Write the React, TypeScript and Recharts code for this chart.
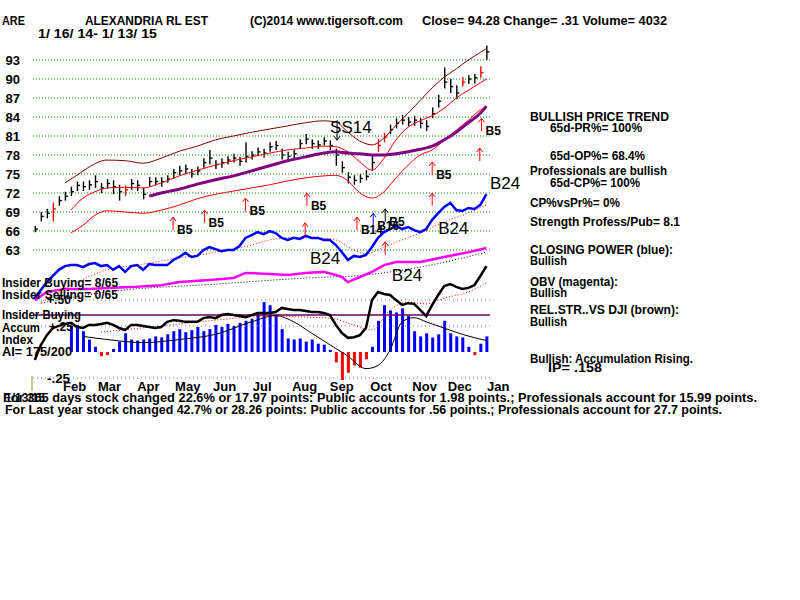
import React from 'react'
import { ComposedChart, Line, Bar, Scatter, XAxis, YAxis, ReferenceLine, Cell } from 'recharts'

const FONT = '"Liberation Sans", Arial, sans-serif'

// one price bar every ~3 sessions, 1/16/14 .. 1/13/15
const priceHigh = [
  66.8, 69.0, 69.5, 70.5, 71.5, 72.2, 73.0, 73.8, 73.8, 74.0,
  74.8, 73.6, 74.2, 74.0, 73.3, 73.2, 74.2, 74.0, 72.8, 74.5,
  74.5, 74.5, 74.8, 75.8, 76.3, 76.5, 75.8, 76.2, 77.5, 78.8,
  77.2, 77.5, 77.8, 78.2, 77.7, 80.0, 78.6, 79.2, 79.0, 80.0,
  80.2, 79.0, 78.5, 78.8, 80.5, 81.3, 80.5, 80.3, 80.8, 80.3,
  79.0, 77.0, 75.3, 74.8, 75.0, 75.6, 77.8, 80.5, 81.5, 82.8,
  83.8, 84.3, 84.0, 84.2, 83.8, 83.5, 85.5, 87.5, 91.8, 90.0,
  89.0, 90.3, 90.6, 90.8, 92.0, 95.3,
]
const priceLow = [
  65.8, 67.5, 68.0, 67.5, 70.0, 70.8, 71.5, 72.3, 72.3, 72.5,
  72.8, 72.0, 72.7, 71.8, 70.8, 71.5, 72.5, 72.3, 71.0, 73.0,
  73.2, 73.0, 73.6, 74.3, 74.8, 75.0, 74.4, 74.8, 76.0, 76.5,
  75.8, 76.0, 76.5, 76.8, 76.3, 76.8, 77.3, 77.8, 77.6, 78.5,
  78.8, 77.3, 77.2, 77.5, 79.0, 79.7, 79.0, 79.0, 79.5, 78.8,
  76.3, 75.2, 73.5, 73.3, 73.6, 74.0, 75.5, 78.5, 80.0, 81.3,
  82.2, 82.8, 82.5, 82.6, 82.2, 81.8, 83.8, 85.5, 88.5, 87.8,
  86.8, 88.8, 89.2, 89.3, 90.2, 93.0,
]
const priceClose = [
  66.3, 68.3, 68.8, 69.5, 70.8, 71.5, 72.2, 73.2, 73.0, 73.3,
  73.8, 72.8, 73.5, 73.0, 72.2, 72.5, 73.5, 73.2, 71.8, 73.8,
  73.8, 73.8, 74.2, 75.2, 75.5, 75.8, 75.0, 75.5, 76.8, 77.5,
  76.5, 76.8, 77.2, 77.5, 77.0, 77.8, 78.0, 78.5, 78.3, 79.3,
  79.5, 78.0, 77.8, 78.2, 79.8, 80.5, 79.8, 79.6, 80.2, 79.5,
  78.0, 76.0, 74.5, 74.0, 74.3, 74.6, 76.8, 79.5, 80.8, 82.0,
  83.0, 83.5, 83.2, 83.5, 83.0, 82.5, 84.5, 86.5, 89.5, 88.8,
  87.8, 89.5, 90.0, 90.2, 91.0, 94.3,
]
const redBars = [3, 15, 57, 58, 71, 74]

// bands and moving average: [bar index, price]
const upperBand: [number, number][] = [
  [5, 73.6], [7, 74.8], [9, 76.1], [12, 77.2], [15, 77.1], [18, 76.7], [21, 77.5], [24, 78.6],
  [27, 79.4], [30, 80.4], [33, 81.0], [36, 81.6], [39, 82.1], [42, 82.6], [45, 83.1], [48, 83.4],
  [50, 83.2], [52, 81.6], [54, 80.2], [56, 79.6], [58, 80.7], [60, 82.7], [62, 84.6], [64, 86.6],
  [66, 88.6], [68, 90.3], [70, 91.6], [72, 93.0], [74, 94.2], [75, 94.8],
]
const midBand: [number, number][] = [
  [6, 69.3], [8, 71.2], [10, 72.2], [12, 72.8], [15, 72.9], [18, 72.8], [21, 73.6], [24, 74.7],
  [27, 75.6], [30, 76.4], [33, 77.1], [36, 77.7], [39, 78.3], [42, 78.8], [45, 79.1], [48, 79.4],
  [50, 79.3], [52, 78.5], [54, 76.9], [56, 75.6], [58, 77.5], [60, 80.4], [62, 82.4], [64, 83.4],
  [66, 84.2], [68, 85.4], [70, 87.0], [72, 88.2], [74, 89.4], [75, 90.0],
]
const lowerBand: [number, number][] = [
  [6, 65.7], [8, 66.9], [10, 68.5], [12, 69.2], [15, 69.0], [18, 68.8], [21, 69.3], [24, 70.1],
  [27, 71.1], [30, 71.8], [33, 72.3], [36, 72.8], [39, 73.3], [42, 73.9], [45, 74.4], [48, 74.7],
  [50, 74.8], [52, 73.9], [54, 72.0], [56, 71.2], [58, 72.2], [60, 74.4], [62, 76.4], [64, 78.0],
  [66, 78.8], [68, 80.4], [70, 81.9], [72, 83.5], [74, 85.1], [75, 85.6],
]
const ma65: [number, number][] = [
  [19, 71.5], [21, 72.0], [24, 72.6], [27, 73.4], [30, 74.1], [33, 74.7], [36, 75.5], [39, 76.3],
  [42, 77.1], [45, 77.7], [48, 78.3], [50, 78.5], [52, 78.3], [54, 78.2], [56, 78.0], [58, 78.0],
  [60, 78.2], [62, 78.5], [64, 78.9], [66, 79.4], [68, 80.4], [70, 81.6], [72, 83.1], [74, 84.6],
  [75, 85.7],
]

// closing power (blue), 0..100 indicator scale
const closingPower = [
  24.1, 26.5, 28.8, 30.6, 32.4, 33.5, 33.8, 33.8, 33.2, 34.1,
  34.4, 33.5, 33.8, 32.4, 33.5, 31.8, 33.5, 33.8, 32.4, 34.1,
  33.8, 33.8, 33.8, 35.3, 36.2, 37.4, 36.2, 36.5, 38.2, 39.1,
  38.5, 37.9, 38.2, 38.2, 39.4, 41.8, 42.6, 43.5, 42.9, 43.8,
  43.2, 41.8, 41.2, 41.8, 41.5, 42.4, 41.8, 41.8, 41.2, 41.2,
  39.7, 37.6, 35.3, 36.5, 36.2, 36.8, 39.1, 41.8, 43.5, 44.4,
  45.3, 44.4, 45.0, 44.1, 43.5, 44.4, 47.1, 49.1, 50.9, 52.1,
  50.0, 49.7, 50.6, 50.3, 51.5, 54.7,
]
const closingPowerMa: [number, number][] = [
  [1, 22.9], [6, 27.9], [12, 32.4], [18, 34.1], [24, 35.9], [30, 37.6], [36, 39.7], [39, 41.2],
  [42, 41.8], [47, 41.8], [50, 41.2], [53, 38.2], [55, 37.1], [58, 39.1], [61, 41.2], [64, 43.2],
  [68, 46.5], [72, 49.1], [75, 51.5],
]
const obv: [number, number][] = [
  [0, 23.5], [2, 25.9], [5, 26.8], [9, 26.8], [13, 27.1], [17, 27.4], [21, 27.9], [24, 28.8],
  [29, 29.4], [33, 30.0], [35, 31.5], [39, 31.2], [42, 30.9], [45, 31.5], [48, 31.8], [50, 30.9],
  [51, 30.3], [52, 28.8], [54, 30.3], [56, 31.8], [58, 33.8], [60, 34.7], [64, 34.7], [68, 36.2],
  [72, 37.6], [75, 38.8],
]
const obvMa: [number, number][] = [
  [1, 22.6], [12, 25.9], [30, 28.2], [45, 30.0], [55, 30.9], [64, 33.2], [75, 37.6],
]
const relStrength = [
  5.9, 10.3, 13.2, 15.3, 15.9, 16.5, 16.8, 15.6, 15.3, 16.2,
  16.2, 16.5, 16.8, 16.2, 15.3, 14.7, 16.2, 16.2, 15.9, 15.6,
  15.3, 15.6, 17.1, 17.6, 17.4, 17.1, 17.1, 17.1, 18.2, 18.5,
  18.2, 19.1, 19.4, 19.1, 18.8, 18.5, 19.1, 19.7, 19.7, 19.7,
  20.0, 21.2, 20.9, 20.6, 20.6, 20.3, 20.0, 20.0, 19.7, 19.1,
  16.2, 13.8, 12.4, 12.6, 13.2, 15.3, 23.5, 25.9, 25.3, 25.0,
  23.5, 22.1, 22.6, 22.4, 20.6, 18.8, 22.1, 25.0, 27.6, 28.2,
  27.4, 26.8, 27.1, 27.9, 30.6, 33.5,
]
const relStrengthMa: [number, number][] = [
  [11, 14.1], [21, 15.9], [30, 17.6], [39, 18.8], [45, 18.5], [49, 18.2], [53, 16.2], [56, 14.7],
  [59, 20.6], [62, 22.9], [65, 22.4], [68, 24.1], [72, 25.9], [75, 28.5],
]

// accumulation index
const accum = [
  null, null, null, null, null, null, 0.25, 0.26, 0.2, 0.12,
  0.05, -0.04, -0.03, 0.03, 0.1, 0.18, 0.12, 0.11, 0.12, 0.13,
  0.15, 0.14, 0.17, 0.2, 0.22, 0.19, 0.21, 0.24, 0.2, 0.22,
  0.26, 0.24, 0.27, 0.25, 0.28, 0.3, 0.32, 0.36, 0.48, 0.45,
  0.36, 0.22, 0.13, 0.12, 0.13, 0.1, 0.12, 0.08, 0.07, 0.02,
  -0.1, -0.27, -0.2, -0.13, -0.15, -0.07, 0.05, 0.3, 0.45, 0.4,
  0.38, 0.42, 0.35, 0.2, 0.15, 0.18, 0.14, 0.17, 0.3, 0.18,
  0.15, 0.14, 0.05, -0.03, 0.08, 0.15,
]
const accumMa: [number, number][] = [
  [8, 0.15], [12, 0.12], [18, 0.09], [24, 0.12], [30, 0.17], [36, 0.29], [40, 0.35], [43, 0.29],
  [46, 0.18], [49, 0.07], [52, -0.04], [55, -0.16], [57, -0.13], [59, 0.02], [61, 0.29], [63, 0.33],
  [65, 0.29], [68, 0.23], [71, 0.17], [75, 0.11],
]
const insiderLevel = 0.356

const priceTicks = [63, 66, 69, 72, 75, 78, 81, 84, 87, 90, 93]
const accumTicks = [0.5, 0.25, -0.25]
const monthNames = ['Feb', 'Mar', 'Apr', 'May', 'Jun', 'Jul', 'Aug', 'Sep', 'Oct', 'Nov', 'Dec', 'Jan']
const monthStarts = [4.7, 10.5, 17.0, 23.3, 29.6, 36.2, 42.7, 49.0, 55.7, 62.7, 68.6, 75.1]

// signals: bar index, price level of the arrow tip
const signals = [
  { i: 22.96, level: 68.2, kind: 'buy', label: 'B5' },
  { i: 28.2, level: 69.3, kind: 'buy', label: 'B5' },
  { i: 35.0, level: 71.2, kind: 'buy', label: 'B5' },
  { i: 44.9, level: 67.3, kind: 'buy', label: '' },
  { i: 45.2, level: 72.0, kind: 'buy', label: 'B5' },
  { i: 50.2, level: 83.5, kind: 'sell', label: 'SS14' },
  { i: 53.5, level: 68.2, kind: 'buy', label: 'B14' },
  { i: 56.2, level: 68.8, kind: 'cp', label: 'B16' },
  { i: 58.2, level: 69.5, kind: 'pro', label: 'B5' },
  { i: 58.2, level: 64.3, kind: 'buy', label: '' },
  { i: 66.0, level: 72.0, kind: 'buy', label: '' },
  { i: 66.0, level: 76.9, kind: 'buy', label: 'B5' },
  { i: 73.9, level: 79.1, kind: 'buy', label: '' },
  { i: 74.2, level: 83.8, kind: 'buy', label: 'B5' },
]
const cpSignals = [
  { i: 75.6, level: 57.9, label: 'B24' },
  { i: 67.0, level: 44.7, label: 'B24' },
  { i: 45.7, level: 35.9, label: 'B24' },
  { i: 59.3, level: 30.9, label: 'B24' },
]

const sparse = (pairs: [number, number][]) => {
  const m = new Map<number, number>()
  pairs.forEach(([i, v]) => m.set(i, v))
  return (i: number) => (m.has(i) ? m.get(i) : null)
}
const up = sparse(upperBand), mid = sparse(midBand), lo = sparse(lowerBand), ma = sparse(ma65)
const cpMa = sparse(closingPowerMa), ob = sparse(obv), obMa = sparse(obvMa)
const rsMa = sparse(relStrengthMa), acMa = sparse(accumMa)

const rows = priceClose.map((c, i) => ({
  i,
  range: [priceLow[i], priceHigh[i]],
  close: c,
  red: redBars.includes(i),
  upper: up(i), mid: mid(i), lower: lo(i), ma: ma(i),
  cp: closingPower[i], cpMa: cpMa(i), obv: ob(i), obvMa: obMa(i),
  rs: relStrength[i], rsMa: rsMa(i), accum: accum[i], accumMa: acMa(i),
}))

const W = 800
const H = 600
const X_DOMAIN: [number, number] = [-0.3, 75.6]
const PRICE_DOMAIN: [number, number] = [42.474, 96.158]

const PriceBar = (p: any) => {
  const { x, y, width, height, payload } = p
  if (!payload || x == null) return null
  const top = Math.min(y, y + height)
  const bot = Math.max(y, y + height)
  const [l, h] = payload.range
  const cy = top + ((h - payload.close) / (h - l || 1)) * (bot - top)
  const cx = x + width / 2
  const col = payload.red ? '#ff0000' : '#000000'
  return (
    <g stroke={col} strokeWidth={1.4}>
      <line x1={cx} y1={top} x2={cx} y2={bot} />
      <line x1={cx} y1={cy} x2={cx + 2.5} y2={cy} />
    </g>
  )
}

const kindColor: Record<string, string> = { buy: '#ff0000', cp: '#0000ff', pro: '#000000', sell: '#000000' }

const SignalMark = (p: any) => {
  const { cx, cy, payload } = p
  const col = kindColor[payload.kind]
  if (payload.kind === 'sell') {
    return (
      <g>
        <g stroke={col} strokeWidth={1}>
          <line x1={cx} y1={cy} x2={cx} y2={cy + 20} />
          <line x1={cx - 3} y1={cy + 16} x2={cx} y2={cy + 20} />
          <line x1={cx + 3} y1={cy + 16} x2={cx} y2={cy + 20} />
        </g>
        <text x={cx - 7} y={cy + 13} fontFamily={FONT} fontSize={17} fill="#000">{payload.label}</text>
      </g>
    )
  }
  return (
    <g>
      <g stroke={col} strokeWidth={1}>
        <line x1={cx} y1={cy} x2={cx} y2={cy + 13} />
        <line x1={cx - 3} y1={cy + 4} x2={cx} y2={cy} />
        <line x1={cx + 3} y1={cy + 4} x2={cx} y2={cy} />
      </g>
      {payload.label ? (
        <text x={cx + 4} y={cy + 17} fontFamily={FONT} fontWeight="bold" fontSize={12} fill="#000">{payload.label}</text>
      ) : null}
    </g>
  )
}

const CpLabel = (p: any) => (
  <text x={p.cx} y={p.cy + 6} fontFamily={FONT} fontSize={17} fill="#000">{p.payload.label}</text>
)

const PriceTick = (p: any) => (
  <text x={20} y={p.y + 5} textAnchor="end" fontFamily={FONT} fontWeight="bold" fontSize={13} fill="#000">
    {p.payload.value}
  </text>
)

const MonthTick = (p: any) => {
  const k = monthStarts.indexOf(p.payload.value)
  return (
    <text x={p.x} y={391} fontFamily={FONT} fontWeight="bold" fontSize={13} fill="#000">{monthNames[k]}</text>
  )
}

const T = ({ x, y, w, size = 12, children }: any) => (
  <text x={x} y={y} fontFamily={FONT} fontWeight="bold" fontSize={size} fill="#000"
    textLength={w} lengthAdjust={w ? 'spacingAndGlyphs' : undefined}>
    {children}
  </text>
)

const layer: React.CSSProperties = { position: 'absolute', left: 0, top: 0 }

export default function App() {
  return (
    <div style={{ position: 'absolute', left: 0, top: 0, width: W, height: H, background: '#fff', overflow: 'hidden' }}>
      {/* price panel */}
      <div style={layer}>
        <ComposedChart width={W} height={H} data={rows} margin={{ top: 40, right: 310, bottom: 220, left: 0 }}>
          <XAxis dataKey="i" type="number" domain={X_DOMAIN} hide allowDataOverflow />
          <YAxis yAxisId="price" type="number" domain={PRICE_DOMAIN} ticks={priceTicks} width={33}
            axisLine={false} tickLine={false} tick={PriceTick} allowDataOverflow interval={0} />
          {priceTicks.map(t => (
            <ReferenceLine key={t} yAxisId="price" y={t} stroke="#008000" strokeDasharray="1 2" />
          ))}
          <Line yAxisId="price" dataKey="upper" type="monotone" stroke="#800000" strokeWidth={1} dot={false} connectNulls isAnimationActive={false} />
          <Line yAxisId="price" dataKey="mid" type="monotone" stroke="#ff0000" strokeWidth={1} dot={false} connectNulls isAnimationActive={false} />
          <Line yAxisId="price" dataKey="lower" type="monotone" stroke="#ff0000" strokeWidth={1} dot={false} connectNulls isAnimationActive={false} />
          <Line yAxisId="price" dataKey="ma" type="monotone" stroke="#800080" strokeWidth={3} dot={false} connectNulls isAnimationActive={false} />
          <Bar yAxisId="price" dataKey="range" barSize={3} shape={PriceBar} isAnimationActive={false} />
        </ComposedChart>
      </div>
      {/* indicators and accumulation */}
      <div style={layer}>
        <ComposedChart width={W} height={H} data={rows} margin={{ top: 40, right: 310, bottom: 200, left: 33 }}>
          <XAxis dataKey="i" type="number" domain={X_DOMAIN} ticks={monthStarts} height={20} interval={0}
            axisLine={false} tickLine={false} tick={MonthTick} allowDataOverflow />
          <YAxis yAxisId="acc" type="number" domain={[-0.2692, 3]} hide allowDataOverflow />
          <YAxis yAxisId="ind" type="number" domain={[0, 100]} hide allowDataOverflow />
          {accumTicks.map(t => (
            <ReferenceLine key={t} yAxisId="acc" y={t} stroke="#808080" strokeDasharray="1 3" />
          ))}
          <Bar yAxisId="acc" dataKey="accum" barSize={3} isAnimationActive={false}>
            {rows.map(r => (
              <Cell key={r.i} fill={(r.accum ?? 0) < 0 ? '#ff0000' : '#0000ff'} />
            ))}
          </Bar>
          <ReferenceLine yAxisId="acc" y={insiderLevel} stroke="#660066" strokeWidth={1.5} />
          <Line yAxisId="acc" dataKey="accumMa" type="monotone" stroke="#000" strokeWidth={1} dot={false} connectNulls isAnimationActive={false} />
          <Line yAxisId="ind" dataKey="obvMa" type="monotone" stroke="#000" strokeWidth={1} strokeDasharray="1 2" dot={false} connectNulls isAnimationActive={false} />
          <Line yAxisId="ind" dataKey="obv" type="linear" stroke="#ff00ff" strokeWidth={2.5} dot={false} connectNulls isAnimationActive={false} />
          <Line yAxisId="ind" dataKey="cpMa" type="monotone" stroke="#ff0000" strokeWidth={1} strokeDasharray="1 2" dot={false} connectNulls isAnimationActive={false} />
          <Line yAxisId="ind" dataKey="cp" type="linear" stroke="#0000ff" strokeWidth={2.5} dot={false} isAnimationActive={false} />
          <Line yAxisId="ind" dataKey="rsMa" type="monotone" stroke="#ff0000" strokeWidth={1} strokeDasharray="1 2" dot={false} connectNulls isAnimationActive={false} />
          <Line yAxisId="ind" dataKey="rs" type="linear" stroke="#000" strokeWidth={2.5} dot={false} isAnimationActive={false} />
        </ComposedChart>
      </div>
      {/* signal arrows and labels */}
      <div style={layer}>
        <ComposedChart width={W} height={H} data={rows} margin={{ top: 40, right: 310, bottom: 220, left: 33 }}>
          <XAxis dataKey="i" type="number" domain={X_DOMAIN} hide />
          <YAxis yAxisId="price" type="number" domain={PRICE_DOMAIN} hide />
          <YAxis yAxisId="ind" type="number" domain={[0, 100]} hide />
          <Scatter yAxisId="price" data={signals} dataKey="level" shape={SignalMark} isAnimationActive={false} />
          <Scatter yAxisId="ind" data={cpSignals} dataKey="level" shape={CpLabel} isAnimationActive={false} />
        </ComposedChart>
      </div>
      <svg width={W} height={H} style={{ ...layer, pointerEvents: 'none' }}>
        <T x={2} y={25} w={23}>ARE</T>
        <T x={85} y={25} w={123}>ALEXANDRIA RL EST</T>
        <T x={250} y={25} w={153}>(C)2014 www.tigersoft.com</T>
        <T x={422} y={25} w={245}>Close=  94.28  Change= .31 Volume= 4032</T>
        <T x={38} y={38} w={119}>1/ 16/ 14- 1/ 13/ 15</T>

        <T x={530} y={121} w={139}>BULLISH PRICE TREND</T>
        <T x={550} y={132} w={92}>65d-PR%= 100%</T>
        <T x={550} y={160} w={95}>65d-OP%= 68.4%</T>
        <T x={530} y={175} w={137}>Professionals are bullish</T>
        <T x={550} y={187} w={90}>65d-CP%= 100%</T>
        <T x={530} y={207} w={90}>CP%vsPr%=  0%</T>
        <T x={530} y={226} w={150}>Strength Profess/Pub= 8.1</T>
        <T x={530} y={254} w={143}>CLOSING POWER (blue):</T>
        <T x={530} y={265} w={37}>Bullish</T>
        <T x={530} y={286} w={88}>OBV (magenta):</T>
        <T x={530} y={297} w={37}>Bullish</T>
        <T x={530} y={314} w={149}>REL.STR..VS DJI (brown):</T>
        <T x={530} y={326} w={37}>Bullish</T>
        <T x={530} y={363} w={163}>Bullish: Accumulation Rising.</T>
        <T x={548} y={372} w={54}>IP=  .158</T>

        <T x={2} y={287} w={116}>Insider Buying= 8/65</T>
        <T x={2} y={299} w={116}>Insider Selling= 0/65</T>
        <T x={47} y={304} w={24}>+.50</T>
        <T x={2} y={319} w={79}>Insider Buying</T>
        <T x={2} y={332} w={38}>Accum</T>
        <T x={49} y={331} w={24}>+.25</T>
        <T x={2} y={344} w={31}>Index</T>
        <T x={2} y={356} w={70}>AI= 175/200</T>
        <T x={47} y={383} w={23}>-.25</T>
        <line x1={32} y1={376} x2={32} y2={391} stroke="#999900" strokeWidth={1} />

        <T x={3} y={402} w={754}>For 365 days stock changed  22.6% or  17.97 points:  Public accounts for  1.98 points.;  Professionals account for  15.99 points.</T>
        <T x={5} y={402} w={40}>1/13/15</T>
        <T x={5} y={414} w={717}>For Last year stock changed  42.7% or  28.26 points:  Public accounts for  .56 points.;  Professionals account for  27.7 points.</T>
      </svg>
    </div>
  )
}
